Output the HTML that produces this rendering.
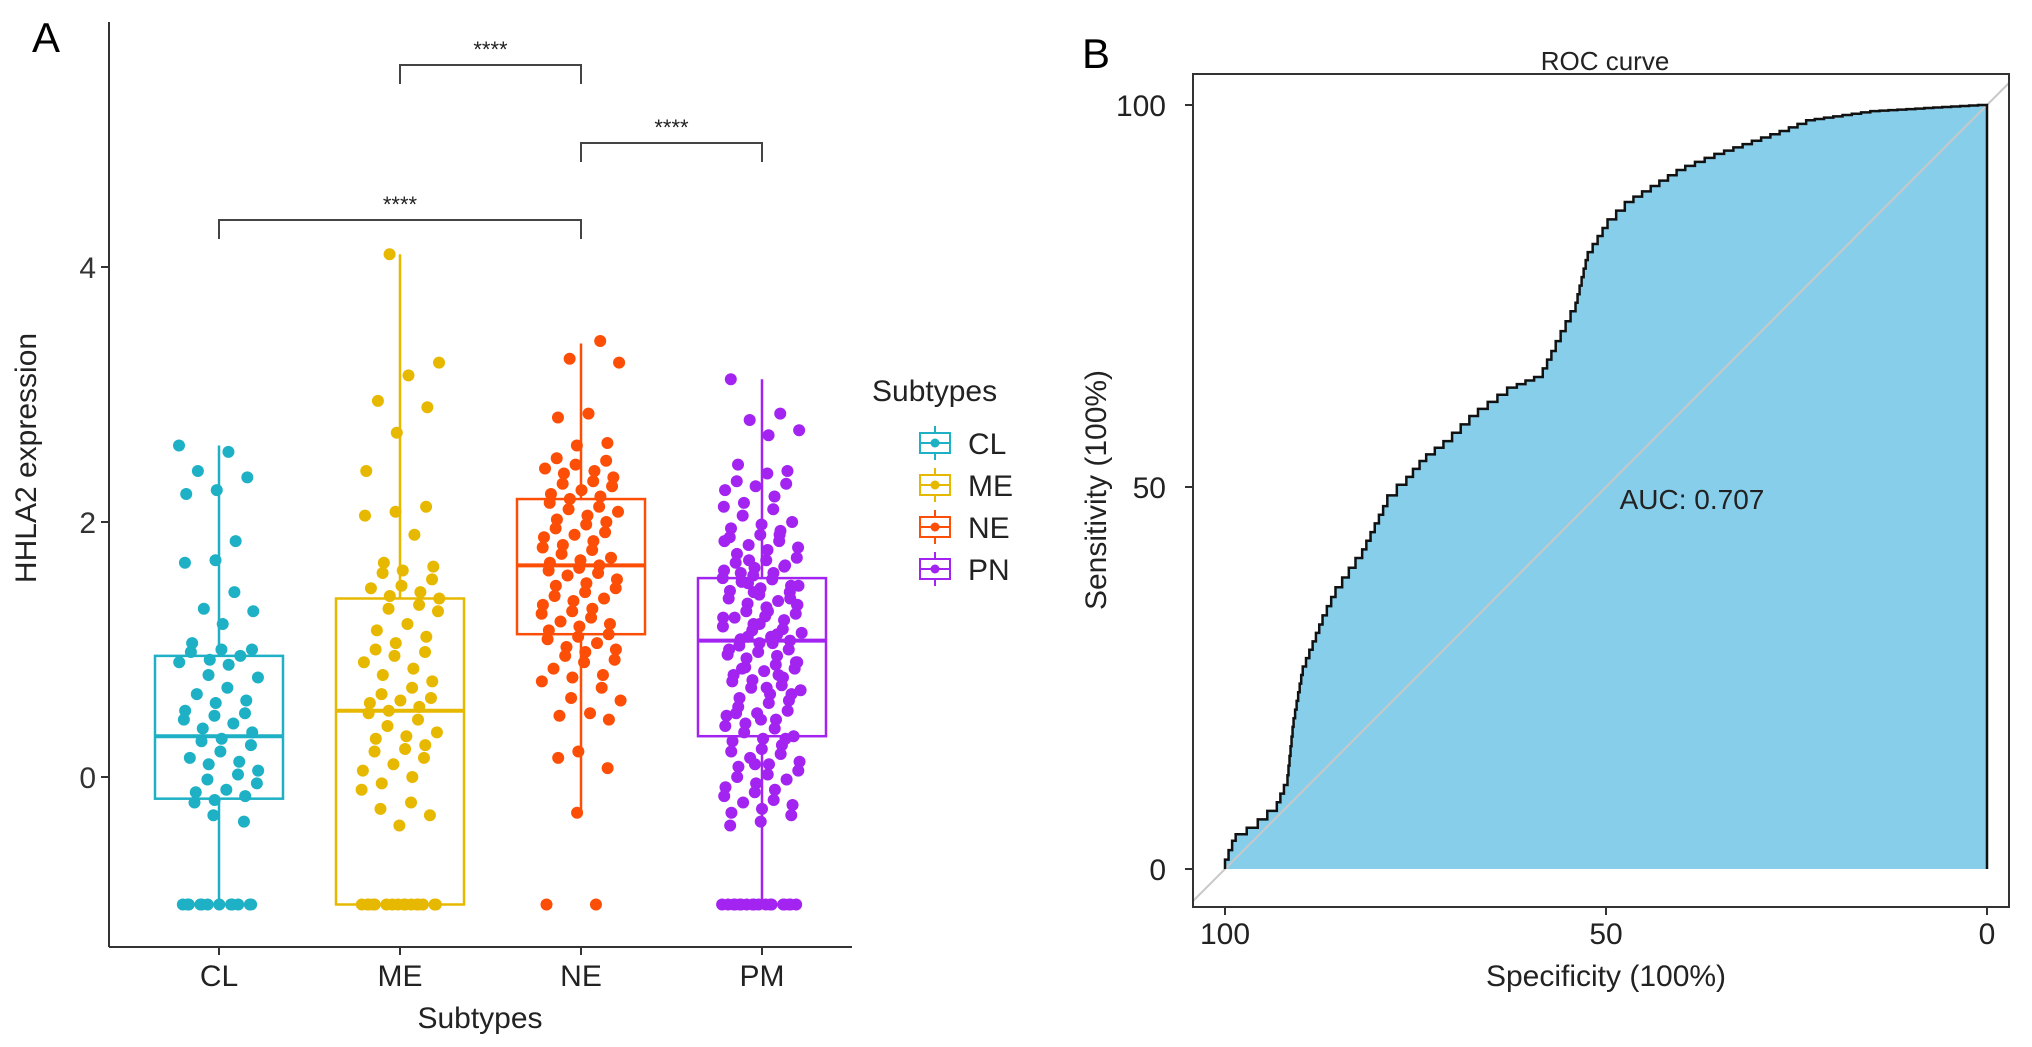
<!DOCTYPE html>
<html><head><meta charset="utf-8"><style>
html,body{margin:0;padding:0;background:#fff}
svg{display:block;font-family:"Liberation Sans",Arial,sans-serif}
</style></head><body>
<svg id="fig" width="2032" height="1047" viewBox="0 0 2032 1047" xmlns="http://www.w3.org/2000/svg">
<g id="panelA"></g>
<g id="panelB"></g>
</svg>
<script>
// ---------- Panel A data ----------
const categories = ["CL","ME","NE","PM"];
const legendLabels = ["CL","ME","NE","PN"];
const colors = ["#1EB0C4","#E7B800","#FC4E07","#A323F0"];
const yTicks = [0,2,4];
const boxQ1 = [-0.17,-1.0,1.12,0.32];
const boxMed = [0.32,0.52,1.66,1.07];
const boxQ3 = [0.95,1.40,2.18,1.56];
const whiskLo = [-1.0,-1.0,-0.28,-1.0];
const whiskHi = [2.6,4.1,3.4,3.12];
const ptsCL = [2.6,2.55,2.4,2.35,2.25,2.22,1.85,1.7,1.68,1.45,1.32,1.3,1.2,1.05,1.0,1.0,0.98,0.95,0.92,0.9,0.88,0.8,0.78,0.7,0.65,0.6,0.58,0.52,0.5,0.48,0.45,0.42,0.38,0.35,0.3,0.28,0.25,0.2,0.15,0.12,0.1,0.05,0.02,-0.02,-0.05,-0.1,-0.12,-0.15,-0.18,-0.2,-0.35,-0.3,-1,-1,-1,-1,-1,-1,-1,-1,-1,-1,-1,-1];
const ptsME = [4.1,3.25,3.15,2.95,2.9,2.7,2.4,2.12,2.08,2.05,1.9,1.68,1.65,1.62,1.6,1.55,1.5,1.48,1.45,1.42,1.4,1.35,1.32,1.3,1.2,1.15,1.1,1.05,1.0,0.98,0.95,0.9,0.85,0.8,0.75,0.7,0.65,0.62,0.6,0.58,0.55,0.52,0.5,0.45,0.4,0.35,0.32,0.3,0.25,0.22,0.2,0.15,0.1,0.05,0.0,-0.05,-0.1,-0.2,-0.25,-0.3,-0.38,-1,-1,-1,-1,-1,-1,-1,-1,-1,-1,-1,-1,-1,-1,-1,-1];
const ptsNE = [3.42,3.28,3.25,2.85,2.82,2.62,2.6,2.5,2.48,2.45,2.42,2.4,2.38,2.35,2.32,2.3,2.28,2.25,2.22,2.2,2.18,2.15,2.12,2.1,2.08,2.05,2.02,2.0,1.98,1.95,1.92,1.9,1.88,1.85,1.82,1.8,1.78,1.75,1.72,1.7,1.68,1.66,1.64,1.62,1.6,1.58,1.55,1.52,1.5,1.48,1.45,1.42,1.4,1.38,1.35,1.32,1.3,1.28,1.25,1.22,1.2,1.18,1.15,1.12,1.1,1.08,1.05,1.02,1.0,0.98,0.95,0.92,0.9,0.85,0.8,0.78,0.75,0.7,0.62,0.6,0.5,0.48,0.45,0.2,0.15,0.07,-0.28,-1,-1];
const ptsPM = [3.12,2.85,2.8,2.72,2.68,2.45,2.4,2.38,2.32,2.3,2.28,2.25,2.2,2.15,2.12,2.1,2.05,2.0,1.98,1.95,1.93,1.9,1.88,1.85,1.82,1.8,1.78,1.75,1.72,1.7,1.68,1.66,1.64,1.62,1.6,1.58,1.56,1.55,1.53,1.5,1.48,1.46,1.45,1.43,1.4,1.38,1.36,1.35,1.33,1.3,1.28,1.26,1.25,1.23,1.2,1.18,1.16,1.15,1.13,1.1,1.08,1.07,1.05,1.03,1.0,0.98,0.96,0.95,0.93,0.9,0.88,0.86,0.85,0.83,0.8,0.78,0.76,0.75,0.72,0.7,0.68,0.65,0.62,0.6,0.58,0.55,0.52,0.5,0.48,0.45,0.42,0.4,0.38,0.35,0.32,0.3,0.28,0.25,0.22,0.2,0.18,0.15,0.12,0.1,0.08,0.05,0.02,0.0,-0.02,-0.05,-0.08,-0.1,-0.12,-0.15,-0.18,-0.2,-0.22,-0.25,-0.28,-0.3,-0.35,-0.38,1.9,1.7,1.5,1.3,1.1,0.9,0.7,0.5,0.3,0.1,1.85,1.65,1.45,1.25,1.05,0.85,0.65,0.45,1.6,1.4,1.2,1.0,0.8,1.52,1.35,1.12,-1,-1,-1,-1,-1,-1,-1,-1,-1,-1,-1,-1,-1,-1,-1,-1,-1,-1];
const groupPts = [ptsCL,ptsME,ptsNE,ptsPM];
const brackets = [[1,2,0],[2,3,1],[0,2,2]]; // from, to, level
const bracketLabels = ["****","****","****"];

// ---------- Panel B data ----------
const rocSpec = [100,98.6,95.7,93.2,91.8,91,89.8,87.2,85.5,82,78.7,76.2,73.6,70.2,66.8,61.7,58.3,56.6,54,52.4,49.8,46.4,39.6,34.5,26,22.6,14.1,0];
const rocSens = [0,3.7,5.4,7.6,11,18.6,25.4,32,35.6,40.7,47.5,50.3,53.4,56,59.3,63,64.4,67.8,73,79.7,83.9,87.3,91.5,93.6,96.6,98,99.2,100];
const rocTicks = [0,50,100];
const aucLabel = "AUC: 0.707";

const NS="http://www.w3.org/2000/svg";
function mk(parent,tag,attrs,text){const e=document.createElementNS(NS,tag);for(const k in attrs)e.setAttribute(k,attrs[k]);if(text!==undefined)e.textContent=text;parent.appendChild(e);return e;}

// ---- Panel A ----
const A=document.getElementById('panelA');
const yA=v=>777-127.5*v;
const xA=i=>219+181*i;
let t;
t=mk(A,'text',{x:32,y:52,'font-size':42,fill:'#000'},'A');


let ax=mk(A,'line',{x1:109,y1:22,x2:109,y2:947,stroke:'#333','stroke-width':2});


ax=mk(A,'line',{x1:109,y1:947,x2:852,y2:947,stroke:'#333','stroke-width':2});


yTicks.forEach(v=>{
  const l=mk(A,'line',{x1:101,y1:yA(v),x2:109,y2:yA(v),stroke:'#333','stroke-width':2});
  
  
  const tx=mk(A,'text',{x:96,y:yA(v)+11,'font-size':30,'text-anchor':'end',fill:'#333'},String(v));
  
  
});
categories.forEach((c,i)=>{
  const l=mk(A,'line',{x1:xA(i),y1:947,x2:xA(i),y2:955,stroke:'#333','stroke-width':2});
  
  
  const tx=mk(A,'text',{x:xA(i),y:986,'font-size':30,'text-anchor':'middle',fill:'#222'},c);
  
  
});
t=mk(A,'text',{x:480,y:1028,'font-size':30,'text-anchor':'middle',fill:'#222'},'Subtypes');


t=mk(A,'text',{x:0,y:0,'font-size':30,'text-anchor':'middle',fill:'#222',transform:'translate(36,458) rotate(-90)'},'HHLA2 expression');



const hw=64;
categories.forEach((c,i)=>{
  const g=mk(A,'g',{});
  
  
  const col=colors[i];
  mk(g,'line',{x1:xA(i),y1:yA(whiskHi[i]),x2:xA(i),y2:yA(boxQ3[i]),stroke:col,'stroke-width':2.5});
  mk(g,'line',{x1:xA(i),y1:yA(boxQ1[i]),x2:xA(i),y2:yA(whiskLo[i]),stroke:col,'stroke-width':2.5});
  mk(g,'rect',{x:xA(i)-hw,y:yA(boxQ3[i]),width:2*hw,height:yA(boxQ1[i])-yA(boxQ3[i]),fill:'none',stroke:col,'stroke-width':2.5});
  mk(g,'line',{x1:xA(i)-hw,y1:yA(boxMed[i]),x2:xA(i)+hw,y2:yA(boxMed[i]),stroke:col,'stroke-width':4});
  const pts=groupPts[i];
  pts.forEach((v,k)=>{
    const f=(k*0.6180339+i*0.37+Math.floor(k/7)*0.13)%1;
    const j=f-0.5; // deterministic jitter offset
    const p=mk(g,'circle',{cx:xA(i)+j*80,cy:yA(v),r:6,fill:col});
    
    
  });
});
const bY=[65,143,220];
brackets.forEach((b,k)=>{
  const g=mk(A,'g',{});
  
  
  const y=bY[b[2]],x1=xA(b[0]),x2=xA(b[1]);
  mk(g,'path',{d:`M${x1},${y+19}V${y}H${x2}V${y+19}`,fill:'none',stroke:'#444','stroke-width':2});
  mk(g,'text',{x:(x1+x2)/2,y:y-8,'font-size':22,'text-anchor':'middle',fill:'#222'},bracketLabels[k]);
});
// legend
const L=mk(A,'g',{});


mk(L,'text',{x:872,y:401,'font-size':30,fill:'#222'},'Subtypes');
legendLabels.forEach((s,i)=>{
  const y=443+42*i,col=colors[i];
  const e=mk(L,'g',{});
  
  
  mk(e,'line',{x1:935,y1:y-17,x2:935,y2:y+17,stroke:col,'stroke-width':2});
  mk(e,'rect',{x:920,y:y-10,width:30,height:20,fill:'#fff',stroke:col,'stroke-width':2});
  mk(e,'line',{x1:920,y1:y,x2:950,y2:y,stroke:col,'stroke-width':2});
  mk(e,'circle',{cx:935,cy:y,r:4.5,fill:col});
  mk(e,'text',{x:968,y:y+11,'font-size':30,fill:'#222'},s);
});

// ---- Panel B ----
const B=document.getElementById('panelB');
const xB=s=>1987-7.62*s;
const yB=s=>869-7.64*s;
t=mk(B,'text',{x:1082,y:68,'font-size':42,fill:'#000'},'B');


t=mk(B,'text',{x:1605,y:70,'font-size':26,'text-anchor':'middle',fill:'#222'},'ROC curve');


const clip=mk(B,'clipPath',{id:'bclip'});
mk(clip,'rect',{x:1193,y:74,width:816,height:833});
// staircase path: each segment rendered as fine steps (rendering style only)
let d=`M${xB(rocSpec[0])},${yB(rocSens[0])}`;
for(let k=1;k<rocSpec.length;k++){
  const x0=xB(rocSpec[k-1]),y0=yB(rocSens[k-1]),x1=xB(rocSpec[k]),y1=yB(rocSens[k]);
  const n=Math.max(1,Math.round(Math.max(Math.abs(x1-x0),Math.abs(y1-y0))/9));
  for(let s=1;s<=n;s++){
    const ys=y0+(y1-y0)*s/n,xs=x0+(x1-x0)*s/n;
    d+=`V${ys}H${xs}`;
  }
}
const area=mk(B,'path',{d:d+`L${xB(0)},${yB(0)}Z`,fill:'#87CEEB',stroke:'none'});


const diag=mk(B,'line',{x1:xB(105),y1:yB(-5),x2:xB(-5),y2:yB(105),stroke:'#c8c8c8','stroke-width':2,'clip-path':'url(#bclip)'});


const roc=mk(B,'path',{d:d+`L${xB(0)},${yB(0)}`,fill:'none',stroke:'#111','stroke-width':2.5});


const frame=mk(B,'rect',{x:1193,y:74,width:816,height:833,fill:'none',stroke:'#333','stroke-width':2});


rocTicks.forEach(v=>{
  let l=mk(B,'line',{x1:1185,y1:yB(v),x2:1193,y2:yB(v),stroke:'#333','stroke-width':2});
  
  
  let tx=mk(B,'text',{x:1166,y:yB(v)+11,'font-size':30,'text-anchor':'end',fill:'#222'},String(v));
  
  
  l=mk(B,'line',{x1:xB(v),y1:907,x2:xB(v),y2:915,stroke:'#333','stroke-width':2});
  
  
  tx=mk(B,'text',{x:xB(v),y:944,'font-size':30,'text-anchor':'middle',fill:'#222'},String(v));
  
  
});
t=mk(B,'text',{x:1606,y:986,'font-size':30,'text-anchor':'middle',fill:'#222'},'Specificity (100%)');


t=mk(B,'text',{x:0,y:0,'font-size':30,'text-anchor':'middle',fill:'#222',transform:'translate(1106,490) rotate(-90)'},'Sensitivity (100%)');


t=mk(B,'text',{x:1692,y:509,'font-size':28,'text-anchor':'middle',fill:'#222'},aucLabel);


</script>
</body></html>
